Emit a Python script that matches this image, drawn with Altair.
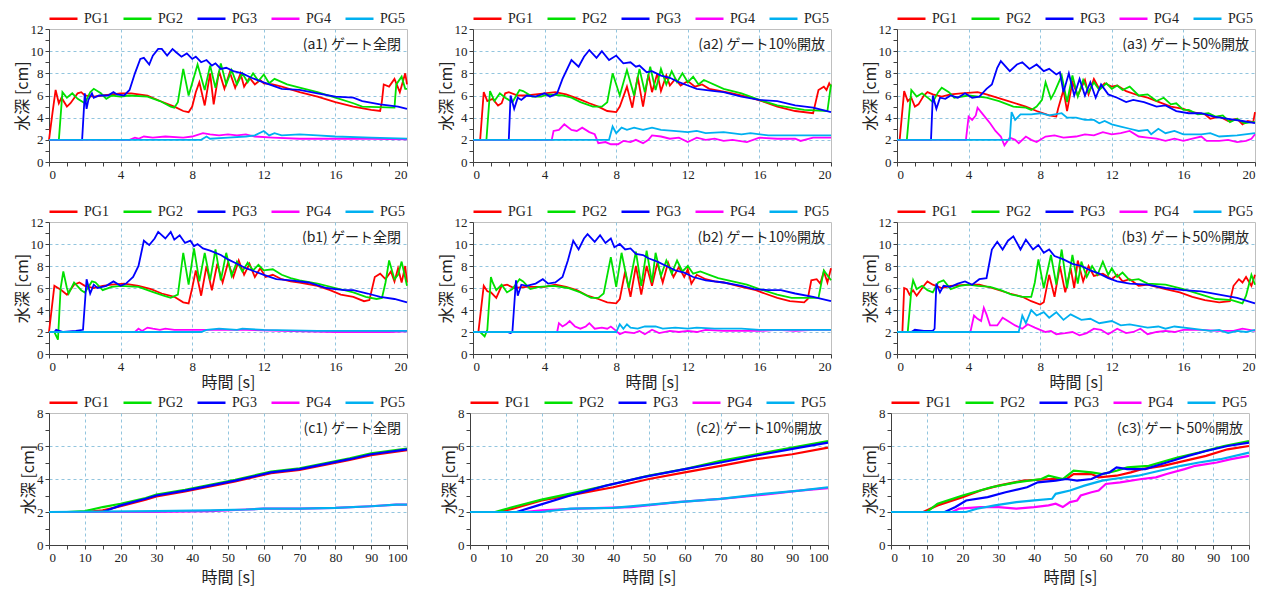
import altair as alt
import pandas as pd

SERIES = ["PG1", "PG2", "PG3", "PG4", "PG5"]
COLORS = ["#ff0000", "#00e000", "#0000ff", "#ff00ff", "#00b0f0"]

TITLES = {
    "a1": "(a1) ゲート全閉", "a2": "(a2) ゲート10%開放", "a3": "(a3) ゲート50%開放",
    "b1": "(b1) ゲート全閉", "b2": "(b2) ゲート10%開放", "b3": "(b3) ゲート50%開放",
    "c1": "(c1) ゲート全閉", "c2": "(c2) ゲート10%開放", "c3": "(c3) ゲート50%開放",
}

# ---------------- (a1) ----------------
a1_pg1 = [(0,2.0),(0.2,4.5),(0.37,6.5),(0.55,5.3),(0.7,5.8),(1.0,5.0),(1.2,5.3),(1.6,6.2),(1.8,6.3),(2.0,6.0),(2.5,5.9),(3.0,6.0),(4.0,6.2),(4.6,6.2),(5.5,6.0),(6.2,5.5),(7.0,5.0),(7.5,4.6),(7.8,4.5),(8.0,5.0),(8.2,6.3),(8.4,7.2),(8.7,5.1),(9.0,8.0),(9.2,5.2),(9.5,8.2),(9.8,6.6),(10.1,8.1),(10.4,6.7),(10.7,8.0),(10.9,6.8),(11.2,7.6),(11.5,7.0),(11.8,7.4),(12.0,7.1),(12.5,7.0),(13.0,6.8),(14.0,6.3),(15.0,5.9),(16.0,5.4),(17.0,5.0),(18.0,4.7),(18.5,4.6),(18.6,5.5),(18.7,7.0),(19.0,6.8),(19.3,7.5),(19.6,6.3),(19.9,8.0),(20.0,7.0)]
a1_pg2 = [(0,2.0),(0.55,2.0),(0.75,6.3),(1.0,5.8),(1.3,6.2),(1.6,5.7),(2.0,5.3),(2.3,6.3),(2.5,6.6),(2.9,6.2),(3.2,5.7),(3.5,6.0),(4.0,5.9),(4.5,6.0),(5.5,5.9),(6.2,5.5),(6.8,5.0),(7.0,4.9),(7.2,5.4),(7.5,8.4),(7.8,6.0),(8.3,8.8),(8.7,6.5),(9.0,8.7),(9.3,6.7),(9.6,8.9),(9.9,7.0),(10.2,8.3),(10.5,7.0),(10.8,8.0),(11.1,7.2),(11.4,8.0),(11.7,7.3),(12.0,7.9),(12.3,7.1),(12.6,7.5),(13.3,7.0),(14.0,6.7),(15.0,6.3),(16.0,5.8),(17.0,5.3),(17.5,5.0),(19.3,4.9),(19.4,7.0),(19.7,7.7),(19.9,6.6),(20.0,6.6)]
a1_pg3 = [(0,2.0),(1.85,2.0),(2.0,6.2),(2.1,4.8),(2.2,5.6),(2.4,6.2),(2.5,5.8),(2.8,6.0),(3.3,6.0),(3.6,6.3),(3.8,6.1),(4.2,6.0),(4.5,6.5),(4.8,8.0),(5.1,9.3),(5.3,9.4),(5.6,8.8),(5.8,9.6),(6.1,10.2),(6.3,10.2),(6.6,9.6),(6.9,10.2),(7.1,9.9),(7.4,9.5),(7.7,9.8),(8.0,9.3),(8.2,9.5),(8.5,9.0),(8.8,9.2),(9.1,8.7),(9.3,8.9),(9.6,8.4),(9.9,8.5),(10.3,8.2),(10.8,8.0),(11.3,7.6),(11.8,7.3),(12.3,7.0),(13.0,6.6),(14.0,6.5),(15.0,6.2),(16.0,5.9),(17.0,5.8),(17.5,5.5),(18.5,5.2),(19.5,5.0),(20.0,4.8)]
a1_pg4 = [(0,2.0),(4.5,2.0),(4.8,2.2),(5.0,2.1),(5.3,2.3),(5.8,2.2),(6.5,2.3),(7.5,2.2),(8.0,2.3),(8.6,2.6),(9.0,2.5),(9.5,2.4),(10.0,2.5),(10.5,2.4),(11.0,2.5),(11.5,2.3),(12.5,2.2),(14.0,2.1),(16.0,2.1),(18.0,2.1),(20.0,2.05)]
a1_pg5 = [(0,2.0),(8.5,2.0),(8.8,2.3),(9.0,2.1),(10.0,2.2),(11.0,2.3),(11.5,2.4),(12.0,2.8),(12.3,2.4),(12.6,2.6),(13.0,2.4),(14.0,2.5),(15.0,2.4),(16.0,2.3),(18.0,2.2),(20.0,2.1)]

# ---------------- (a2) ----------------
a2_pg1 = [(0,2.0),(0.4,2.0),(0.6,6.3),(0.8,5.5),(1.1,5.7),(1.4,5.1),(1.6,5.3),(1.8,6.2),(2.0,6.3),(2.5,6.0),(3.0,6.0),(3.5,6.1),(4.0,6.2),(4.6,6.3),(5.2,6.1),(5.9,5.7),(6.5,5.3),(7.0,5.0),(7.5,4.6),(8.0,4.5),(8.2,5.0),(8.6,6.8),(8.9,4.9),(9.2,7.7),(9.5,5.0),(9.8,7.9),(10.0,6.3),(10.3,8.0),(10.5,6.4),(10.8,7.8),(11.0,6.9),(11.3,7.5),(11.6,6.9),(12.0,7.3),(12.4,6.8),(12.8,7.0),(13.2,6.6),(14.5,6.2),(15.5,5.8),(16.3,5.4),(17.0,5.0),(18.0,4.6),(19.0,4.4),(19.3,6.5),(19.6,6.8),(19.75,6.5),(19.9,7.1),(20.0,6.8)]
a2_pg2 = [(0,2.0),(0.75,2.0),(0.95,6.4),(1.2,5.5),(1.5,6.2),(1.8,5.8),(2.2,5.4),(2.6,6.5),(2.8,6.4),(3.3,5.9),(3.8,5.9),(4.2,6.1),(5.0,6.0),(5.5,5.8),(6.0,5.4),(6.7,5.0),(7.2,5.0),(7.5,5.4),(7.8,8.0),(8.2,6.0),(8.6,8.3),(9.0,6.0),(9.3,8.4),(9.6,6.3),(9.9,8.6),(10.2,6.5),(10.5,8.4),(10.8,7.0),(11.1,8.2),(11.4,7.2),(11.7,8.0),(12.0,7.2),(12.3,7.7),(12.6,7.0),(12.9,7.4),(14.0,6.6),(15.0,6.2),(16.0,5.6),(17.0,5.1),(18.5,4.7),(19.8,4.6),(20.0,7.0)]
a2_pg3 = [(0,2.0),(2.0,2.0),(2.1,6.0),(2.3,4.8),(2.5,5.8),(2.7,5.6),(3.0,6.0),(3.5,5.9),(4.0,6.2),(4.3,5.9),(4.7,6.2),(5.0,7.5),(5.5,9.2),(5.9,8.6),(6.2,9.5),(6.5,10.1),(6.9,9.4),(7.2,10.0),(7.6,9.2),(8.0,9.6),(8.4,8.9),(8.8,9.0),(9.1,8.6),(9.3,8.7),(9.7,8.1),(10.0,8.2),(10.5,7.8),(11.0,7.6),(11.5,7.2),(12.0,6.9),(12.5,6.6),(13.5,6.4),(14.0,6.3),(15.0,5.9),(16.0,5.6),(17.0,5.5),(18.0,5.1),(19.0,4.9),(20.0,4.5)]
a2_pg4 = [(0,2.0),(4.4,2.0),(4.5,2.8),(4.8,2.9),(5.1,3.4),(5.5,2.9),(5.8,2.8),(6.1,3.1),(6.5,2.7),(6.8,2.5),(7.0,1.7),(7.4,1.8),(7.7,1.6),(8.1,1.6),(8.4,1.9),(8.8,1.8),(9.1,2.0),(9.5,1.7),(9.8,2.0),(10.0,2.4),(10.5,2.3),(11.0,2.1),(11.5,2.2),(12.0,1.8),(12.5,2.2),(13.0,2.0),(13.5,2.1),(14.0,1.9),(14.5,2.0),(15.3,1.8),(16.0,2.2),(17.0,2.1),(18.0,2.1),(18.3,1.9),(19.0,2.2),(20.0,2.2)]
a2_pg5 = [(0,2.0),(7.6,2.0),(7.8,3.2),(8.0,2.6),(8.3,3.1),(8.6,2.9),(9.0,3.1),(9.5,2.9),(10.0,3.1),(10.5,2.9),(11.2,2.8),(12.0,2.7),(12.5,2.8),(13.0,2.6),(14.0,2.7),(15.0,2.5),(15.5,2.6),(16.5,2.4),(18.0,2.4),(20.0,2.4)]

# ---------------- (a3) ----------------
a3_pg1 = [(0,2.0),(0.15,2.0),(0.4,6.4),(0.6,5.5),(0.8,5.8),(1.0,5.0),(1.2,5.2),(1.5,6.0),(1.7,6.3),(2.0,6.1),(2.5,5.9),(3.0,6.1),(3.6,6.2),(4.5,6.3),(5.0,6.1),(6.0,5.6),(6.8,5.2),(7.2,5.0),(7.8,4.6),(8.5,4.2),(8.9,4.1),(9.0,4.8),(9.3,6.5),(9.5,4.6),(9.8,7.2),(10.1,6.0),(10.5,7.4),(10.7,6.1),(11.0,7.5),(11.3,6.6),(11.6,7.1),(12.0,6.8),(12.3,6.9),(12.8,6.4),(13.5,6.0),(14.0,5.8),(14.5,5.5),(15.3,5.0),(16.0,4.8),(16.5,4.5),(17.2,4.3),(17.5,3.9),(18.0,4.1),(18.5,3.7),(19.0,3.9),(19.3,3.4),(19.6,3.7),(19.9,3.6),(20.0,4.5)]
a3_pg2 = [(0,2.0),(0.55,2.0),(0.8,6.5),(1.1,5.9),(1.4,6.2),(1.8,5.7),(2.0,5.4),(2.3,6.3),(2.5,6.7),(2.9,6.3),(3.2,5.8),(4.0,6.0),(5.0,5.8),(5.7,5.5),(6.5,5.0),(7.2,4.9),(7.5,4.7),(7.8,5.0),(8.1,5.6),(8.3,7.2),(8.6,5.7),(8.8,6.3),(9.2,7.8),(9.5,5.4),(9.8,7.8),(10.1,5.9),(10.4,7.4),(10.7,6.3),(11.0,7.2),(11.3,6.5),(11.7,7.1),(12.0,6.6),(12.3,6.9),(12.6,6.5),(13.0,6.8),(13.5,6.0),(14.0,6.1),(14.5,5.5),(14.9,5.8),(15.3,5.2),(15.6,5.3),(16.0,4.7),(16.3,4.7),(16.8,4.3),(17.4,4.4),(17.8,4.1),(18.2,4.2),(18.6,3.6),(19.0,3.9),(19.4,3.5),(19.8,3.6),(20.0,3.6)]
a3_pg3 = [(0,2.0),(1.9,2.0),(2.0,6.0),(2.2,4.8),(2.4,5.8),(2.7,5.7),(3.0,6.0),(3.4,5.8),(3.8,6.2),(4.2,5.8),(4.6,5.9),(5.0,6.6),(5.3,7.0),(5.6,8.5),(5.8,9.1),(6.3,8.2),(6.7,8.8),(7.0,9.0),(7.4,8.4),(7.8,8.8),(8.2,8.2),(8.5,8.4),(8.9,7.9),(9.1,8.1),(9.3,6.3),(9.6,8.0),(9.9,6.0),(10.2,7.5),(10.5,6.0),(10.8,7.2),(11.1,5.8),(11.4,7.0),(11.8,6.1),(12.3,5.8),(12.8,5.4),(13.2,5.6),(13.8,5.4),(14.5,5.0),(15.0,5.1),(15.6,4.6),(16.3,4.4),(17.0,4.4),(17.7,4.1),(18.5,3.9),(19.3,3.7),(20.0,3.5)]
a3_pg4 = [(0,2.0),(3.85,2.0),(4.0,4.1),(4.2,3.8),(4.4,4.2),(4.5,4.9),(4.8,4.3),(5.2,3.5),(5.5,2.8),(5.8,2.3),(6.0,1.5),(6.3,2.2),(6.6,2.0),(6.8,1.7),(7.2,2.3),(7.5,2.0),(7.8,1.8),(8.3,2.3),(8.8,2.4),(9.3,2.2),(10.0,2.3),(10.5,2.5),(11.0,2.4),(11.5,2.7),(12.0,2.5),(12.5,2.6),(13.0,2.8),(13.5,2.3),(14.0,2.2),(14.5,2.1),(15.0,1.9),(15.5,2.1),(16.0,1.9),(16.5,2.1),(17.0,2.3),(17.3,1.9),(18.0,1.9),(18.5,2.0),(19.0,1.8),(19.5,1.9),(19.8,2.1),(20.0,2.5)]
a3_pg5 = [(0,2.0),(6.3,2.0),(6.4,4.5),(6.6,3.8),(6.9,4.3),(7.5,4.3),(8.0,4.4),(8.5,4.2),(9.2,4.4),(9.5,4.0),(10.0,4.0),(10.5,3.8),(11.0,3.8),(11.3,3.5),(11.6,3.7),(12.0,3.4),(12.5,3.2),(13.0,3.0),(13.5,2.8),(14.0,2.9),(14.2,2.5),(14.6,3.0),(15.0,2.6),(15.5,2.8),(16.0,2.5),(17.0,2.5),(17.5,2.6),(18.0,2.3),(19.0,2.4),(20.0,2.6)]

# ---------------- (b1) ----------------
b1_pg1 = [(0,2.0),(0.3,6.2),(0.7,5.8),(1.0,5.4),(1.4,6.3),(1.7,6.5),(2.0,6.2),(2.5,6.0),(3.0,6.2),(3.5,6.3),(4.2,6.4),(5.0,6.2),(5.7,5.9),(6.3,5.5),(7.0,5.2),(7.5,4.7),(7.8,4.6),(8.0,6.0),(8.2,7.6),(8.5,5.3),(8.8,8.0),(9.1,5.8),(9.4,8.2),(9.7,6.5),(10.0,8.3),(10.3,7.0),(10.6,8.5),(10.9,7.2),(11.2,8.2),(11.5,7.0),(11.8,7.8),(12.1,7.0),(12.5,7.2),(13.0,6.8),(13.5,6.6),(14.0,6.5),(15.0,6.2),(15.7,5.8),(16.3,5.4),(17.0,5.2),(17.6,4.8),(17.9,4.9),(18.2,7.0),(18.5,7.3),(18.8,6.8),(19.1,7.5),(19.3,6.6),(19.5,7.8),(19.7,6.5),(19.9,8.0),(20.0,6.5)]
b1_pg2 = [(0,2.0),(0.3,2.0),(0.5,1.3),(0.65,6.0),(0.8,7.5),(1.0,6.0),(1.1,5.5),(1.4,6.5),(1.8,5.8),(2.0,5.6),(2.4,6.6),(2.6,6.5),(3.0,5.8),(3.5,6.1),(4.0,6.2),(5.0,6.1),(5.7,5.7),(6.4,5.3),(6.8,5.1),(7.2,5.4),(7.5,9.2),(7.8,6.3),(8.1,9.6),(8.4,6.6),(8.7,9.2),(9.0,6.7),(9.3,9.5),(9.6,6.7),(9.9,9.2),(10.2,7.1),(10.5,8.4),(10.8,7.5),(11.1,8.3),(11.4,7.6),(11.7,8.1),(12.0,7.6),(12.5,7.7),(13.0,7.2),(13.5,6.9),(14.0,6.7),(15.0,6.4),(16.0,6.0),(17.0,5.6),(17.7,5.2),(18.3,5.0),(18.6,5.1),(18.8,6.5),(19.0,8.5),(19.3,6.8),(19.5,7.2),(19.7,8.4),(20.0,6.2)]
b1_pg3 = [(0,2.0),(0.3,2.0),(0.4,2.2),(0.8,2.0),(1.5,2.1),(1.9,2.2),(2.1,6.8),(2.3,5.5),(2.5,6.3),(2.7,6.0),(3.2,6.2),(3.6,6.6),(4.0,6.2),(4.3,6.4),(4.7,7.0),(5.0,8.0),(5.3,10.3),(5.6,9.9),(5.9,10.5),(6.1,11.1),(6.5,10.5),(6.8,11.1),(7.0,10.4),(7.3,10.8),(7.6,10.1),(7.9,10.3),(8.1,9.8),(8.3,10.0),(8.6,9.6),(9.0,9.4),(9.6,9.0),(10.0,8.6),(10.5,8.2),(11.0,7.8),(11.5,7.5),(12.0,7.2),(12.7,6.8),(13.5,6.7),(14.5,6.5),(15.5,6.0),(16.5,5.8),(17.0,5.8),(17.8,5.5),(18.5,5.2),(19.3,5.0),(20.0,4.7)]
b1_pg4 = [(0,2.0),(4.8,2.0),(5.0,2.3),(5.2,2.1),(5.5,2.4),(5.8,2.3),(6.2,2.2),(6.5,2.3),(7.0,2.2),(8.0,2.2),(9.0,2.2),(10.0,2.2),(11.0,2.2),(13.0,2.1),(16.0,2.0),(19.0,2.0),(20.0,2.05)]
b1_pg5 = [(0,2.0),(8.5,2.0),(8.8,2.2),(9.5,2.3),(10.5,2.2),(10.8,2.3),(12.0,2.2),(15.0,2.1),(20.0,2.1)]

# ---------------- (b2) ----------------
b2_pg1 = [(0,2.0),(0.3,2.0),(0.6,6.2),(0.8,5.7),(1.0,5.6),(1.3,5.1),(1.6,6.2),(1.9,6.3),(2.3,6.0),(3.0,6.1),(4.0,6.1),(4.6,6.3),(5.2,6.1),(5.8,5.8),(6.4,5.3),(7.0,5.0),(7.5,4.7),(8.0,4.6),(8.2,5.0),(8.5,7.5),(8.8,5.2),(9.1,8.0),(9.4,5.4),(9.7,8.0),(10.0,6.2),(10.3,8.3),(10.6,6.5),(10.9,8.3),(11.2,7.0),(11.5,7.9),(11.8,7.0),(12.0,7.7),(12.2,6.4),(12.5,7.2),(13.0,6.8),(13.5,6.6),(14.0,6.5),(15.0,6.1),(15.8,5.8),(16.3,5.5),(17.0,5.1),(17.7,4.8),(18.5,4.7),(18.7,5.0),(18.9,6.7),(19.2,6.8),(19.4,6.4),(19.6,7.5),(19.8,6.5),(20.0,7.8)]
b2_pg2 = [(0,2.0),(0.4,2.0),(0.65,1.6),(0.8,2.2),(1.0,7.0),(1.1,6.5),(1.3,5.8),(1.6,6.3),(1.9,5.6),(2.2,5.9),(2.6,6.8),(2.8,6.6),(3.2,5.9),(3.7,6.1),(4.5,6.2),(5.3,6.0),(6.0,5.6),(6.6,5.1),(7.0,5.1),(7.3,5.5),(7.7,8.8),(8.0,6.1),(8.3,9.2),(8.7,6.0),(9.1,9.3),(9.4,6.2),(9.7,9.4),(10.0,6.5),(10.2,9.2),(10.5,7.1),(10.8,8.5),(11.1,7.3),(11.4,8.5),(11.7,7.5),(12.0,8.0),(12.3,7.3),(12.7,7.5),(13.2,7.2),(13.7,6.9),(14.5,6.6),(15.3,6.3),(16.0,5.9),(17.0,5.4),(17.8,5.1),(19.3,5.1),(19.6,7.6),(20.0,6.7)]
b2_pg3 = [(0,2.0),(1.9,2.0),(2.1,1.9),(2.2,2.0),(2.4,6.7),(2.5,5.3),(2.7,6.3),(3.0,6.2),(3.5,6.4),(3.9,6.8),(4.2,6.4),(4.6,6.5),(5.0,7.0),(5.3,8.5),(5.6,10.3),(5.9,9.5),(6.2,10.5),(6.4,10.9),(6.8,10.2),(7.1,10.8),(7.4,10.1),(7.7,10.5),(7.9,9.7),(8.2,10.0),(8.5,9.5),(8.8,9.6),(9.1,9.1),(9.5,9.0),(9.8,8.7),(10.3,8.4),(10.8,8.0),(11.3,7.6),(11.8,7.4),(12.3,7.0),(13.0,6.7),(14.0,6.5),(15.0,6.2),(15.7,5.9),(16.5,5.8),(17.2,5.8),(18.0,5.5),(19.0,5.2),(20.0,4.8)]
b2_pg4 = [(0,2.0),(4.7,2.0),(4.8,2.8),(5.0,2.5),(5.2,2.7),(5.4,3.0),(5.7,2.5),(6.0,2.3),(6.3,2.5),(6.5,2.8),(6.8,2.3),(7.2,2.4),(7.5,2.3),(7.7,2.5),(8.0,2.1),(8.2,1.8),(8.5,2.0),(9.0,1.9),(9.3,2.1),(9.6,1.8),(10.0,2.2),(10.4,1.9),(11.0,2.1),(11.5,2.0),(12.0,2.1),(12.5,2.0),(13.0,2.2),(14.0,2.1),(15.0,2.1),(16.0,2.1),(17.0,2.2),(18.0,2.1),(19.0,2.2),(20.0,2.2)]
b2_pg5 = [(0,2.0),(8.0,2.0),(8.2,2.7),(8.4,2.3),(8.6,2.7),(8.8,2.4),(9.2,2.3),(9.6,2.5),(10.2,2.5),(10.6,2.3),(11.3,2.4),(12.0,2.3),(12.5,2.4),(13.5,2.3),(15.0,2.3),(16.0,2.2),(18.0,2.2),(20.0,2.2)]

# ---------------- (b3) ----------------
b3_pg1 = [(0,2.0),(0.3,2.0),(0.4,6.0),(0.55,5.9),(0.7,5.4),(0.9,5.8),(1.1,5.3),(1.5,6.2),(1.7,6.6),(2.0,6.3),(2.5,6.0),(3.0,6.2),(4.0,6.3),(4.6,6.3),(5.3,6.0),(6.3,5.5),(7.0,5.2),(7.5,4.8),(8.0,4.5),(8.2,4.7),(8.5,7.2),(8.8,5.2),(9.1,8.0),(9.4,5.6),(9.7,7.8),(9.9,6.0),(10.1,8.5),(10.4,6.6),(10.7,8.0),(11.0,7.1),(11.5,7.3),(12.0,6.8),(12.3,7.2),(12.6,6.6),(13.0,6.8),(13.5,6.2),(14.0,6.3),(15.0,5.9),(15.8,5.6),(16.5,5.2),(17.2,4.9),(18.0,4.7),(18.6,4.8),(18.8,6.2),(19.1,6.8),(19.3,6.5),(19.5,7.0),(19.8,6.2),(20.0,7.2)]
b3_pg2 = [(0,2.0),(0.6,2.0),(0.8,5.8),(0.9,6.7),(1.1,5.9),(1.4,6.2),(1.7,5.8),(2.0,5.6),(2.3,6.5),(2.6,6.7),(3.0,5.9),(3.5,6.2),(4.0,6.3),(4.5,6.2),(5.2,6.1),(5.8,5.8),(6.4,5.4),(7.0,5.2),(7.5,5.2),(7.7,6.5),(7.9,8.6),(8.2,6.0),(8.6,9.0),(8.9,6.3),(9.2,9.5),(9.5,6.0),(9.8,9.0),(10.1,6.4),(10.3,8.4),(10.6,7.0),(10.9,8.0),(11.2,7.2),(11.5,8.4),(11.8,7.2),(12.0,7.8),(12.3,7.0),(12.6,7.4),(13.0,6.7),(13.5,6.8),(14.0,6.4),(15.0,6.3),(16.0,5.9),(17.0,5.4),(17.8,5.0),(18.7,4.9),(19.3,4.6),(19.5,5.3),(19.8,7.2),(20.0,6.3)]
b3_pg3 = [(0,2.0),(0.8,2.0),(1.0,2.2),(1.5,2.1),(2.0,2.1),(2.1,2.3),(2.2,6.4),(2.4,5.6),(2.6,6.2),(3.0,6.1),(3.4,6.4),(3.8,6.6),(4.2,6.3),(4.6,6.8),(5.0,6.9),(5.3,9.5),(5.6,10.2),(5.9,9.5),(6.2,10.3),(6.5,10.7),(6.9,9.5),(7.2,10.4),(7.6,9.5),(7.9,9.9),(8.2,9.2),(8.5,9.5),(8.8,8.9),(9.3,8.6),(9.8,8.2),(10.3,8.0),(10.8,7.6),(11.3,7.3),(11.8,6.9),(12.3,6.6),(13.0,6.4),(14.0,6.3),(15.0,6.0),(16.0,5.8),(17.0,5.7),(18.0,5.4),(19.0,5.1),(20.0,4.6)]
b3_pg4 = [(0,2.0),(4.1,2.0),(4.3,3.5),(4.5,3.2),(4.7,3.0),(4.85,4.2),(5.0,3.6),(5.2,2.6),(5.6,2.6),(5.9,3.3),(6.2,3.0),(6.6,2.6),(7.0,2.3),(7.3,2.7),(7.7,2.4),(8.0,2.2),(8.3,2.0),(8.6,2.1),(8.9,1.8),(9.4,1.9),(9.8,2.0),(10.2,1.7),(10.6,1.9),(11.0,2.3),(11.4,2.2),(11.8,1.8),(12.3,2.3),(12.8,1.9),(13.2,2.0),(13.6,2.3),(14.0,1.8),(14.5,2.0),(15.0,2.1),(15.5,2.0),(16.0,2.2),(17.0,2.2),(18.0,2.1),(18.8,2.1),(19.3,2.3),(20.0,2.1)]
b3_pg5 = [(0,2.0),(6.8,2.0),(7.0,3.5),(7.2,2.8),(7.5,4.0),(7.8,3.5),(8.2,3.8),(8.5,3.3),(8.9,3.8),(9.3,3.1),(9.7,3.6),(10.3,3.1),(10.8,3.2),(11.3,2.8),(12.0,3.0),(12.5,2.6),(13.0,2.7),(14.0,2.4),(14.6,2.5),(15.0,2.3),(15.5,2.5),(16.5,2.3),(17.5,2.1),(18.0,2.2),(18.5,1.9),(19.0,2.1),(19.5,2.0),(20.0,2.2)]

# ---------------- (c1) ----------------
c1_pg1 = [(0,2.0),(10,2.0),(15,2.1),(20,2.35),(27,2.75),(30,2.95),(38,3.25),(45,3.55),(52,3.85),(58,4.15),(62,4.35),(70,4.55),(77,4.85),(84,5.15),(90,5.45),(100,5.75)]
c1_pg2 = [(0,2.0),(5,2.0),(10,2.05),(15,2.3),(20,2.5),(27,2.85),(30,3.05),(38,3.35),(45,3.65),(52,3.95),(58,4.25),(62,4.45),(70,4.65),(77,4.95),(84,5.25),(90,5.55),(100,5.85)]
c1_pg3 = [(0,2.0),(15,2.0),(20,2.4),(27,2.8),(30,3.0),(38,3.3),(45,3.6),(52,3.9),(58,4.2),(62,4.4),(70,4.6),(77,4.9),(84,5.2),(90,5.5),(100,5.8)]
c1_pg4 = [(0,2.0),(30,2.0),(45,2.05),(55,2.15),(60,2.2),(70,2.2),(80,2.25),(90,2.35),(97,2.45),(100,2.45)]
c1_pg5 = [(0,2.0),(30,2.05),(45,2.1),(55,2.15),(60,2.2),(70,2.2),(80,2.25),(90,2.35),(97,2.45),(100,2.45)]

# ---------------- (c2) ----------------
c2_pg1 = [(0,2.0),(8,2.0),(12,2.2),(20,2.7),(30,3.1),(40,3.5),(50,4.0),(60,4.4),(70,4.8),(80,5.2),(90,5.5),(100,5.9)]
c2_pg2 = [(0,2.0),(7,2.0),(12,2.3),(20,2.75),(30,3.2),(40,3.7),(50,4.2),(60,4.6),(70,5.1),(80,5.5),(90,5.9),(100,6.3)]
c2_pg3 = [(0,2.0),(13,2.0),(19,2.4),(28,3.0),(38,3.6),(48,4.1),(60,4.6),(70,5.0),(82,5.5),(92,5.9),(100,6.2)]
c2_pg4 = [(0,2.0),(15,2.0),(20,2.1),(30,2.2),(45,2.3),(58,2.6),(70,2.8),(80,3.0),(92,3.3),(100,3.45)]
c2_pg5 = [(0,2.0),(20,2.0),(28,2.2),(40,2.25),(48,2.4),(58,2.6),(70,2.8),(82,3.1),(92,3.3),(100,3.5)]

# ---------------- (c3) ----------------
c3_pg1 = [(0,2.0),(9,2.0),(13,2.4),(20,2.9),(25,3.3),(30,3.6),(37,3.9),(45,4.0),(49,4.0),(51,4.3),(56,4.3),(58,4.1),(63,4.2),(67,4.4),(70,4.6),(76,4.8),(82,5.1),(88,5.4),(94,5.8),(100,6.0)]
c3_pg2 = [(0,2.0),(10,2.0),(13,2.5),(20,3.0),(28,3.5),(35,3.8),(42,4.0),(44,4.2),(48,4.0),(51,4.5),(56,4.4),(59,4.3),(63,4.5),(66,4.7),(72,4.8),(80,5.3),(86,5.6),(93,6.0),(100,6.3)]
c3_pg3 = [(0,2.0),(15,2.0),(18,2.3),(21,2.7),(27,2.9),(32,3.2),(38,3.5),(41,3.8),(46,3.9),(49,4.0),(52,3.9),(56,4.0),(59,4.3),(61,4.4),(63,4.7),(66,4.6),(71,4.6),(77,5.0),(83,5.4),(88,5.7),(94,6.0),(100,6.2)]
c3_pg4 = [(0,2.0),(17,2.0),(19,2.2),(25,2.3),(30,2.3),(35,2.2),(40,2.3),(44,2.4),(46,2.5),(48,2.3),(50,2.6),(52,2.7),(53,3.0),(56,3.2),(58,3.3),(60,3.7),(64,3.8),(70,4.0),(74,4.1),(77,4.3),(82,4.6),(85,4.8),(91,5.0),(95,5.2),(100,5.4)]
c3_pg5 = [(0,2.0),(21,2.0),(24,2.2),(29,2.4),(35,2.6),(40,2.7),(45,2.8),(46,3.1),(50,3.3),(54,3.6),(59,3.9),(62,4.0),(69,4.2),(75,4.5),(81,4.8),(86,5.0),(92,5.2),(100,5.6)]

DATA = {
    "a1": [a1_pg1, a1_pg2, a1_pg3, a1_pg4, a1_pg5],
    "a2": [a2_pg1, a2_pg2, a2_pg3, a2_pg4, a2_pg5],
    "a3": [a3_pg1, a3_pg2, a3_pg3, a3_pg4, a3_pg5],
    "b1": [b1_pg1, b1_pg2, b1_pg3, b1_pg4, b1_pg5],
    "b2": [b2_pg1, b2_pg2, b2_pg3, b2_pg4, b2_pg5],
    "b3": [b3_pg1, b3_pg2, b3_pg3, b3_pg4, b3_pg5],
    "c1": [c1_pg1, c1_pg2, c1_pg3, c1_pg4, c1_pg5],
    "c2": [c2_pg1, c2_pg2, c2_pg3, c2_pg4, c2_pg5],
    "c3": [c3_pg1, c3_pg2, c3_pg3, c3_pg4, c3_pg5],
}

SERIF = "Liberation Serif"
SANS = "Noto Sans CJK JP"
GRID = "#92c5de"
AXC = "#404040"
PLOT_W = 358
HEIGHTS = {"a": 133, "b": 132, "c": 132}


def panel(key):
    row = key[0]
    long_run = row == "c"
    xmax, xmajor, xminor = (100, 10, 5) if long_run else (20, 4, 1)
    ymax, ymajor, yminor = (8, 2, 1) if long_run else (12, 2, 1)
    recs = []
    for name, pts in zip(SERIES, DATA[key]):
        for t, v in pts:
            recs.append({"t": t, "v": v, "s": name})
    df = pd.DataFrame(recs)

    xaxis = alt.Axis(
        values=list(range(0, xmax + 1, xminor)),
        labelExpr=f"datum.value % {xmajor} === 0 ? datum.label : ''",
        gridOpacity={"condition": {"test": f"datum.value % {xmajor} === 0 && datum.value > 0 && datum.value < {xmax}", "value": 1}, "value": 0},
        title="時間 [s]" if row in ("b", "c") else None,
        titlePadding=5 if long_run else 1,
        labelPadding=2,
    )
    yaxis = alt.Axis(
        values=list(range(0, ymax + 1, yminor)),
        labelExpr=f"datum.value % {ymajor} === 0 ? datum.label : ''",
        gridOpacity={"condition": {"test": f"datum.value % {ymajor} === 0 && datum.value > 0 && datum.value < {ymax}", "value": 1}, "value": 0},
        title="水深 [cm]",
        titlePadding=0,
        labelPadding=2,
        minExtent=13 if long_run else 19,
    )
    legend = alt.Legend(
        orient="none", legendX=6, legendY=-19, direction="horizontal", columns=5,
        title=None, symbolType="M-2,0H2", symbolSize=196, symbolStrokeWidth=2.5,
        labelFont=SERIF, labelFontSize=14, labelColor="#222222", labelOffset=12,
        columnPadding=9, padding=0,
    )
    lines = alt.Chart(df).mark_line(strokeWidth=2.2 if long_run else 1.8).encode(
        x=alt.X("t:Q", scale=alt.Scale(domain=[0, xmax], nice=False, zero=True), axis=xaxis),
        y=alt.Y("v:Q", scale=alt.Scale(domain=[0, ymax], nice=False), axis=yaxis),
        color=alt.Color("s:N", scale=alt.Scale(domain=SERIES, range=COLORS), legend=legend),
    )
    label = alt.Chart(pd.DataFrame({"txt": [TITLES[key]]})).mark_text(
        align="right", baseline="top", font=SANS, fontSize=14, color="#222222"
    ).encode(x=alt.value(PLOT_W - 6), y=alt.value(9), text="txt:N")
    return alt.layer(lines, label).properties(width=PLOT_W, height=HEIGHTS[row])


def row_of(r, spacing):
    return alt.hconcat(*[panel(f"{r}{i}") for i in (1, 2, 3)], spacing=spacing).resolve_scale(color="independent").resolve_legend(color="independent")


top = alt.vconcat(row_of("a", 25), row_of("b", 25), spacing=20).resolve_scale(color="independent").resolve_legend(color="independent")
chart = alt.vconcat(top, row_of("c", 28), spacing=2).resolve_scale(color="independent").resolve_legend(color="independent")

chart = chart.properties(padding={"left": 5, "top": 1, "right": 0, "bottom": 0}).configure_view(
    stroke="#bfbfbf", strokeWidth=1
).configure_axis(
    labelFont=SERIF, labelFontSize=13, labelColor="#222222",
    titleFont=SANS, titleFontSize=16, titleFontWeight="normal", titleColor="#222222",
    domainColor=AXC, tickColor=AXC, tickSize=4,
    gridColor=GRID, gridDash=[3, 3], gridWidth=1,
)

chart.save("out.html", embed_options={"renderer": "svg", "actions": False})
